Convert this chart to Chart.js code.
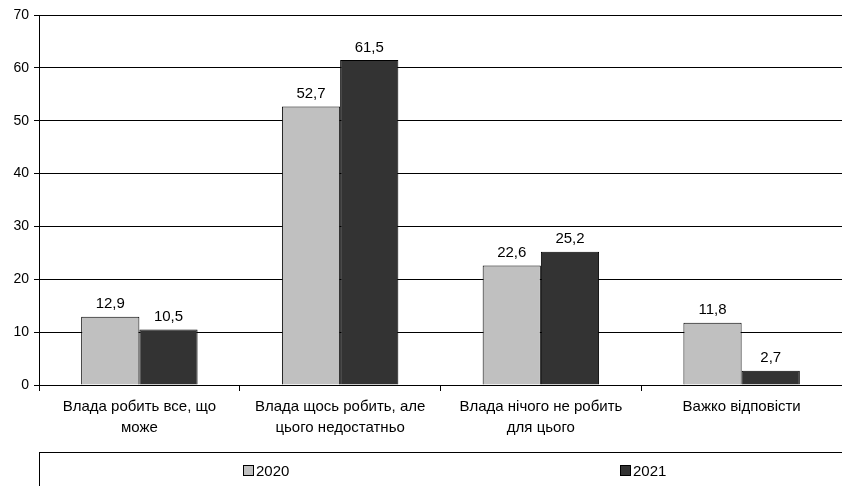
<!doctype html>
<html>

<head>
    <title>Chart</title>
    <script src="https://cdn.jsdelivr.net/npm/chart.js"></script>
</head>

<style>
    body {
        margin: 0;
        background: #fff;
        font-family: 'Liberation Sans', Arial, sans-serif;
    }

    .wrap {
        position: relative;
        width: 842px;
        height: 486px;
    }

    .legend {
        position: absolute;
        left: 39px;
        top: 452px;
        width: 820px;
        height: 60px;
        border: 1px solid #000;
        box-sizing: border-box;
    }

    .item {
        position: absolute;
        top: 9px;
        font-size: 15px;
        display: flex;
        align-items: center;
    }

    .box {
        width: 11px;
        height: 11px;
        border: 1px solid #000;
        box-sizing: border-box;
        margin-right: 2px;
    }
</style>

<body>
    <div class="wrap">
        <canvas id="grafico" width="842" height="486"></canvas>
        <div class="legend">
            <div class="item" style="left: 203px;"><span class="box" style="background: #C0C0C0;"></span>2020</div>
            <div class="item" style="left: 580px;"><span class="box" style="background: #333333;"></span>2021</div>
        </div>
    </div>

    <script>
        var categorias = [
            ['Влада робить все, що', 'може'],
            ['Влада щось робить, але', 'цього недостатньо'],
            ['Влада нічого не робить', 'для цього'],
            ['Важко відповісти']
        ];
        var anos = ['2020', '2021'];
        var valores2020 = [12.9, 52.7, 22.6, 11.8];
        var valores2021 = [10.5, 61.5, 25.2, 2.7];
        var cores = ['#C0C0C0', '#333333'];

        // rótulos de valor acima das barras
        var rotulos = {
            id: 'rotulos',
            afterDatasetsDraw(chart) {
                var ctx = chart.ctx;
                ctx.save();
                ctx.font = '15px "Liberation Sans", Arial';
                ctx.fillStyle = '#000';
                ctx.textAlign = 'center';
                ctx.textBaseline = 'bottom';
                chart.data.datasets.forEach((ds, i) => {
                    chart.getDatasetMeta(i).data.forEach((bar, j) => {
                        ctx.fillText(ds.data[j].toFixed(1).replace('.', ','), bar.x, bar.y - 5);
                    });
                });
                ctx.restore();
            }
        };

        var grafico = new Chart(document.getElementById('grafico').getContext('2d'), {
            type: 'bar',
            data: {
                labels: categorias,
                datasets: [{
                    label: anos[0],
                    data: valores2020,
                    backgroundColor: cores[0],
                    borderColor: '#000',
                    borderWidth: 1
                }, {
                    label: anos[1],
                    data: valores2021,
                    backgroundColor: cores[1],
                    borderColor: '#000',
                    borderWidth: 1
                }]
            },
            options: {
                responsive: false,
                animation: false,
                layout: {
                    padding: { top: 15, right: 0, left: 0, bottom: 0 }
                },
                datasets: {
                    bar: {
                        barPercentage: 1,
                        categoryPercentage: 0.58
                    }
                },
                plugins: {
                    legend: { display: false },
                    tooltip: { enabled: false }
                },
                scales: {
                    x: {
                        border: { color: '#000' },
                        grid: {
                            drawOnChartArea: false,
                            color: '#000',
                            tickLength: 6
                        },
                        ticks: {
                            color: '#000',
                            maxRotation: 0,
                            autoSkip: false,
                            padding: 6,
                            font: { family: '"Liberation Sans", Arial', size: 15, lineHeight: 1.35 }
                        },
                        afterFit(scale) {
                            scale.height = 101;
                        }
                    },
                    y: {
                        min: 0,
                        max: 70,
                        border: { color: '#000' },
                        grid: {
                            color: '#000',
                            tickLength: 5
                        },
                        ticks: {
                            stepSize: 10,
                            color: '#000',
                            padding: 5,
                            font: { family: '"Liberation Sans", Arial', size: 14 }
                        },
                        afterFit(scale) {
                            scale.width = 39;
                        }
                    }
                }
            },
            plugins: [rotulos]
        });
    </script>
</body>

</html>
